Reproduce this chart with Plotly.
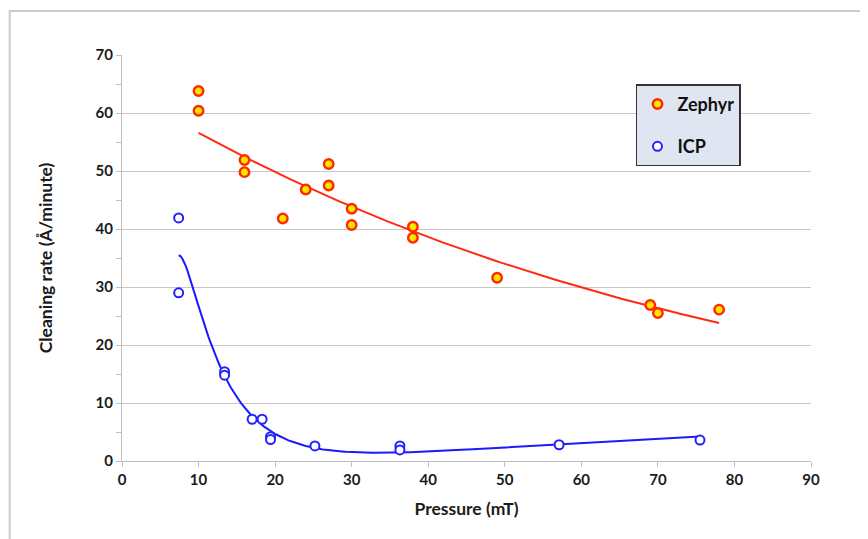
import numpy as np
import plotly.graph_objects as go

# Data
zephyr_x = [10, 10, 16, 16, 21, 24, 27, 27, 30, 30, 38, 38, 49, 69, 70, 78]
zephyr_y = [63.8, 60.4, 51.9, 49.8, 41.8, 46.8, 51.2, 47.5, 43.5, 40.7, 40.4, 38.5, 31.6, 26.9, 25.5, 26.1]
icp_x = [7.4, 7.4, 13.4, 13.4, 17.0, 18.3, 19.4, 19.4, 25.2, 36.3, 36.3, 57.1, 75.5]
icp_y = [41.9, 29.0, 15.4, 14.8, 7.2, 7.2, 4.2, 3.7, 2.6, 2.6, 1.9, 2.8, 3.6]
x_ticks = [0, 10, 20, 30, 40, 50, 60, 70, 80, 90]
y_ticks = [0, 10, 20, 30, 40, 50, 60, 70]

FONT = "Lato"
fig = go.Figure()

# Zephyr: exponential trend line fitted to the data
zx = np.array(zephyr_x, float); zy = np.array(zephyr_y, float)
b, lna = np.polyfit(zx, np.log(zy), 1)
tx = np.linspace(zx.min(), zx.max(), 200)
fig.add_trace(go.Scatter(x=tx, y=np.exp(lna) * np.exp(b * tx), mode="lines",
                         line=dict(color="#ff2a12", width=2), showlegend=False, hoverinfo="skip"))

# ICP: smooth trend line fitted to the data (cubic in 1/x)
ix = np.array(icp_x, float); iy = np.array(icp_y, float)
px = np.linspace(ix.min(), ix.max(), 300)
p = np.polyfit(1.0 / ix, iy, 3)
fig.add_trace(go.Scatter(x=px, y=np.polyval(p, 1.0 / px), mode="lines",
                         line=dict(color="#1a1aff", width=2), showlegend=False, hoverinfo="skip"))

fig.add_trace(go.Scatter(x=zephyr_x, y=zephyr_y, mode="markers", name="Zephyr",
                         legendgroup="a",
                         marker=dict(size=9.5, color="#ffe600", line=dict(color="#ff2a00", width=2.4))))
fig.add_trace(go.Scatter(x=icp_x, y=icp_y, mode="markers", name="ICP",
                         legendgroup="b",
                         marker=dict(size=9, color="white", line=dict(color="#2222ff", width=2))))

fig.update_layout(
    width=860, height=531,
    margin=dict(l=114, r=57, t=47, b=78, autoexpand=False),
    paper_bgcolor="white", plot_bgcolor="white",
    font=dict(family=FONT, color="#1a1a1a"),
    showlegend=True,
    legend=dict(x=0.746, y=0.928, xanchor="left", yanchor="top",
                bgcolor="#dfe6f1", bordercolor="#333333", borderwidth=1.5,
                font=dict(family=FONT, size=18, color="#111111", weight="bold"),
                tracegroupgap=16, traceorder="grouped",
                itemwidth=30, entrywidth=83),
    xaxis=dict(range=[0, 90], tickvals=x_ticks, showgrid=False, zeroline=False,
               showline=True, linecolor="#bfbfbf", linewidth=1.3,
               ticks="outside", ticklen=5, tickcolor="#bfbfbf",
               tickfont=dict(family=FONT, size=15, weight="bold", color="#1a1a1a"),
               title=dict(text="Pressure (mT)", font=dict(family=FONT, size=17.5, weight="bold"), standoff=15)),
    yaxis=dict(range=[0, 70], tickvals=y_ticks, showgrid=True, gridcolor="#c8c8c8", gridwidth=1.3,
               zeroline=False, showline=True, linecolor="#bfbfbf", linewidth=1.3,
               ticks="outside", ticklen=5, tickcolor="#bfbfbf",
               minor=dict(dtick=5, ticks="outside", ticklen=5, tickcolor="#bfbfbf", showgrid=False),
               tickfont=dict(family=FONT, size=15, weight="bold", color="#1a1a1a"),
               title=dict(text="Cleaning rate (Å/minute)", font=dict(family=FONT, size=17.5, weight="bold"), standoff=38)),
    shapes=[dict(type="rect", xref="paper", yref="paper", x0=-0.163, x1=1.3, y0=-0.25, y1=1.1084,
                 line=dict(color="#cccccc", width=2), fillcolor="rgba(0,0,0,0)", layer="below")],
)

fig.write_html("out.html")
